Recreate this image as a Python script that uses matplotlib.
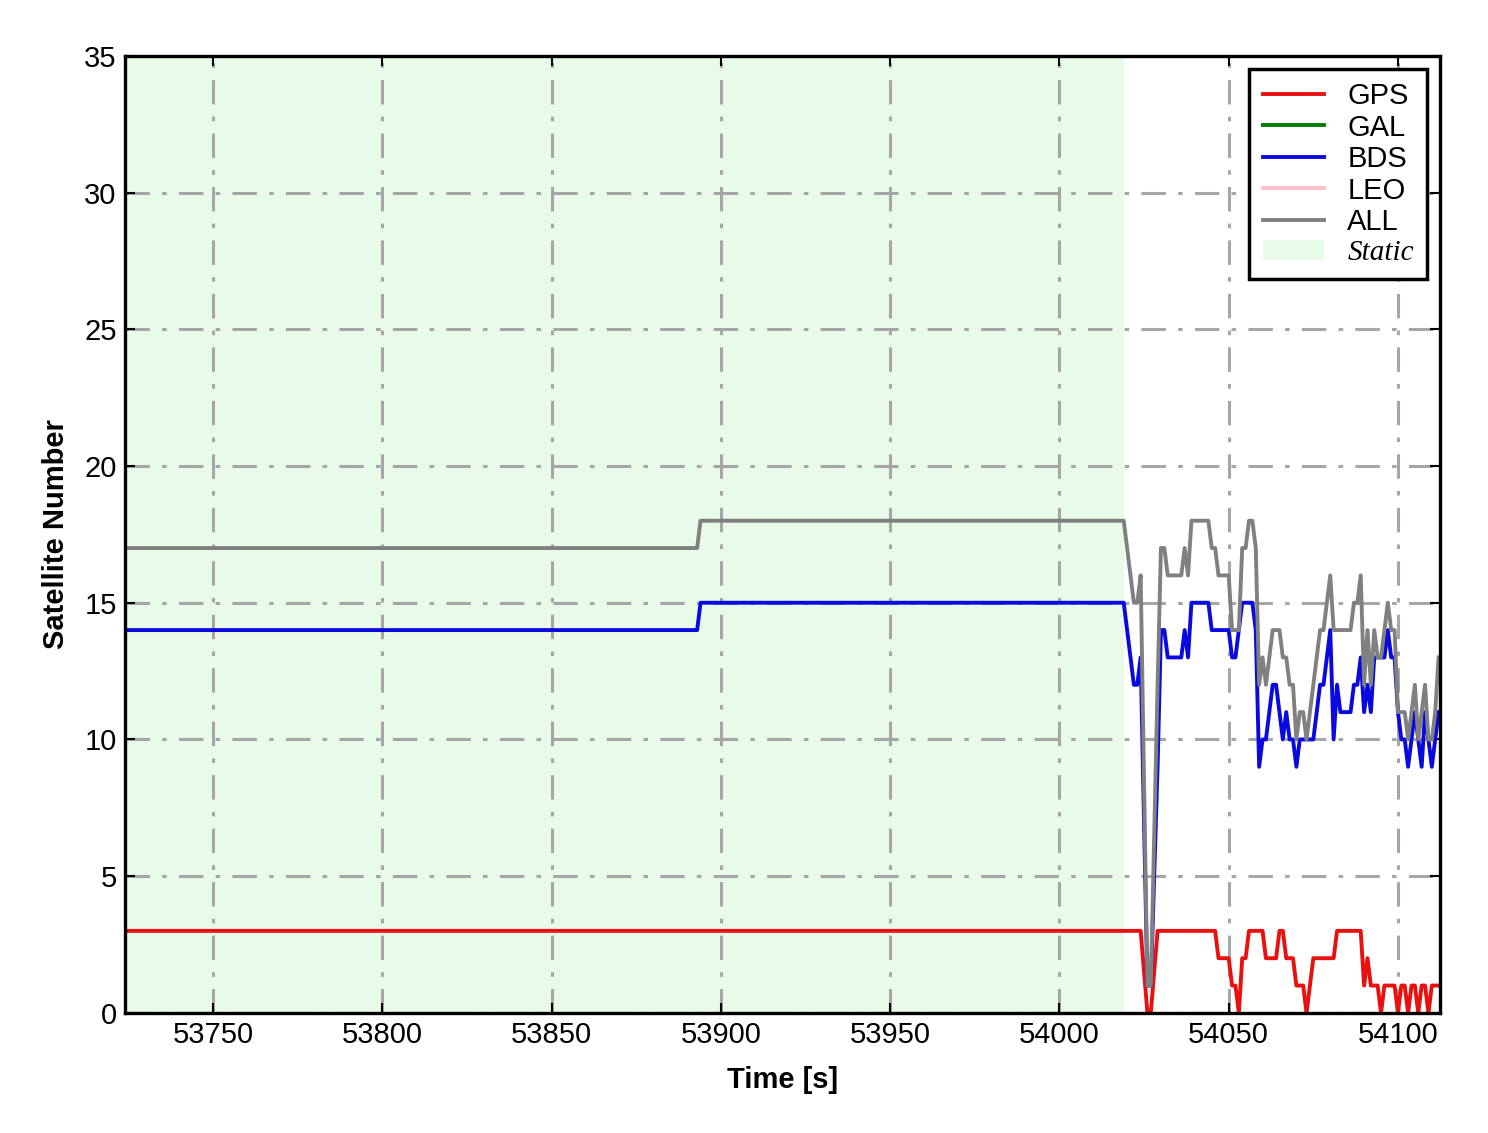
import matplotlib
matplotlib.use("Agg")
import matplotlib.pyplot as plt

# ============================================================
# DATA
# ============================================================
time = [53724, 53893, 53894, 54019, 54022, 54023, 54024, 54026, 54027, 54029,
        54030, 54031, 54032, 54036, 54037, 54038, 54039, 54044, 54045, 54046,
        54047, 54050, 54051, 54052, 54053, 54054, 54055, 54056, 54057, 54058,
        54059, 54060, 54061, 54062, 54063, 54064, 54065, 54066, 54067, 54068,
        54069, 54070, 54071, 54072, 54073, 54074, 54075, 54076, 54077, 54078,
        54079, 54080, 54081, 54082, 54083, 54086, 54087, 54088, 54089, 54090,
        54091, 54092, 54093, 54094, 54095, 54096, 54097, 54098, 54099, 54100,
        54101, 54102, 54103, 54104, 54105, 54106, 54107, 54108, 54109, 54110,
        54111, 54112]
gps = [3, 3, 3, 3, 3, 3, 3, 0, 0, 3,
       3, 3, 3, 3, 3, 3, 3, 3, 3, 3,
       2, 2, 1, 1, 0, 2, 2, 3, 3, 3,
       3, 3, 2, 2, 2, 2, 3, 3, 2, 2,
       2, 1, 1, 1, 0, 1, 2, 2, 2, 2,
       2, 2, 2, 3, 3, 3, 3, 3, 3, 1,
       2, 1, 1, 1, 0, 1, 1, 1, 1, 0,
       1, 1, 0, 1, 1, 0, 1, 1, 0, 1,
       1, 1]
bds = [14, 14, 15, 15, 12, 12, 13, 1, 1, 9,
       14, 14, 13, 13, 14, 13, 15, 15, 14, 14,
       14, 14, 13, 13, 14, 15, 15, 15, 15, 14,
       9, 10, 10, 11, 12, 12, 11, 10, 11, 10,
       10, 9, 10, 10, 10, 10, 10, 11, 12, 12,
       13, 14, 10, 12, 11, 11, 12, 12, 13, 11,
       12, 11, 13, 13, 13, 13, 14, 13, 13, 11,
       10, 10, 9, 10, 11, 10, 9, 11, 10, 9,
       10, 11]
all_sats = [17, 17, 18, 18, 15, 15, 16, 1, 1, 12,
            17, 17, 16, 16, 17, 16, 18, 18, 17, 17,
            16, 16, 14, 14, 14, 17, 17, 18, 18, 17,
            12, 13, 12, 13, 14, 14, 14, 13, 13, 12,
            12, 10, 11, 11, 10, 11, 12, 13, 14, 14,
            15, 16, 14, 14, 14, 14, 15, 15, 16, 12,
            14, 12, 14, 13, 13, 14, 15, 14, 14, 11,
            11, 11, 10, 11, 12, 10, 11, 12, 10, 10,
            11, 13]
static_end = 54019

# ============================================================
# PLOT
# ============================================================
plt.rcParams.update({
    "font.family": ["Liberation Sans", "DejaVu Sans"],
    "font.size": 21,
    "axes.linewidth": 2.4,
})

fig = plt.figure(figsize=(14.88, 11.33), dpi=100)
ax = fig.add_axes([0.084, 0.106, 0.8837, 0.8447])

LW = 2.8
ax.plot(time, gps, color="#e8110f", linewidth=LW, label="GPS")
ax.plot([], [], color="green", linewidth=LW, label="GAL")
ax.plot(time, bds, color="#0a0ae0", linewidth=LW, label="BDS")
ax.plot([], [], color="pink", linewidth=LW, label="LEO")
ax.plot(time, all_sats, color="#808080", linewidth=LW, label="ALL")
ax.axvspan(time[0], static_end, color="lightgreen", alpha=0.2, linewidth=0,
           label="Static", zorder=0)

ax.set_xlim(time[0], 54112.4)
ax.set_ylim(0, 35)
ax.set_yticks(range(0, 36, 5))
ax.set_xticks(range(53750, 54101, 50))

ax.grid(True, color="#a6a6a6", linestyle="-.", linewidth=2.2, dashes=(8, 4, 1.5, 4))
ax.set_axisbelow(True)
ax.tick_params(direction="in", length=7, width=1.5, top=True, right=True,
               labelsize=21, pad=6)

ax.set_xlabel("Time [s]", fontweight="bold", fontsize=21, labelpad=12)
ax.set_ylabel("Satellite Number", fontweight="bold", fontsize=21, labelpad=10)

leg = ax.legend(loc="upper right", fontsize=21, handlelength=2.1, handletextpad=0.8,
                labelspacing=0.12, borderpad=0.45, fancybox=False, framealpha=1,
                edgecolor="black", borderaxespad=0.45)
leg.get_frame().set_linewidth(2.5)
for text in leg.get_texts():
    if text.get_text() == "Static":
        text.set_fontfamily(["Liberation Serif", "DejaVu Serif"])
        text.set_fontstyle("italic")

plt.savefig("out.png", dpi=100)
plt.close()
